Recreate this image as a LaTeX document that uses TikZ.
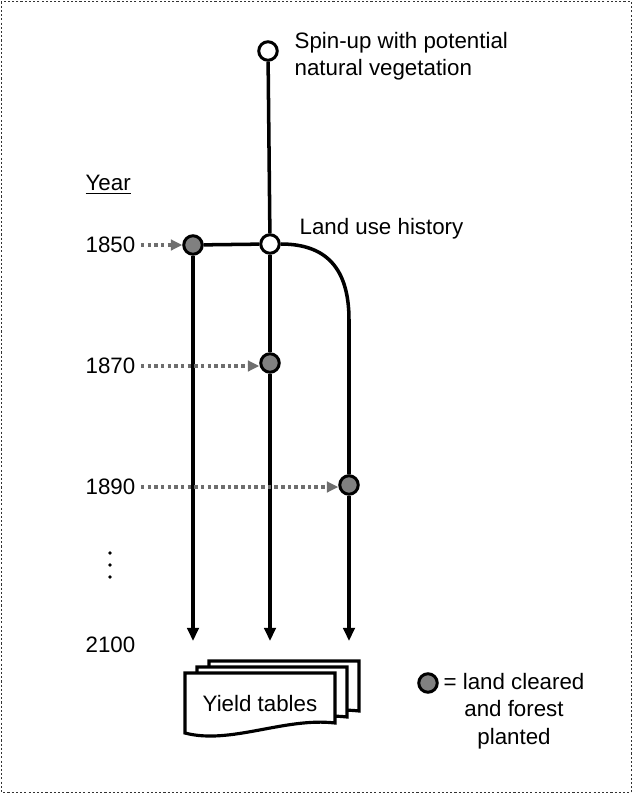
\documentclass[tikz,border=0pt]{standalone}
\usepackage{fontspec}
\setmainfont{Liberation Sans}
\usetikzlibrary{arrows.meta}
\definecolor{grisplein}{HTML}{808080}
\definecolor{grisfleche}{HTML}{6E6E6E}
\tikzset{
  texte/.style={font=\fontsize{12.7}{15.5}\selectfont,inner sep=3pt},
  ouvert/.style={circle,draw=black,fill=white,line width=1.7pt,minimum size=0.37cm,inner sep=0pt},
  plein/.style={ouvert,fill=grisplein},
  ligne/.style={line width=2pt},
  fleche/.style={ligne,-{Triangle[width=6.5pt,length=7.5pt]}},
  pointille/.style={grisfleche,line width=2pt,dash pattern=on 2pt off 1.8pt,
    -{Triangle[width=6pt,length=6.5pt]}},
  feuille/.pic={\draw[line width=1.8pt,fill=white] (0,0) -- (150,0) -- (150,50)
    .. controls (100,44) and (45,72) .. (0,60) -- cycle;}
}
\begin{document}
\begin{tikzpicture}[x=0.02cm,y=-0.02cm]
\useasboundingbox (0,0) rectangle (633,794);
%cadre
\draw[black!80,line width=0.8pt,dash pattern=on 1.2pt off 1.2pt] (1.5,1.5) rectangle (631.5,792.5);
%cercles
\node[ouvert] (spin) at (268,51) {};
\node[ouvert] (hist) at (270,244) {};
\node[plein] (c1850) at (193,245) {};
\node[plein] (c1870) at (270,363) {};
\node[plein] (c1890) at (349,485) {};
\coordinate (coude) at (349,320);
\coordinate (fin1) at (193,641);
\coordinate (fin2) at (270,641);
\coordinate (fin3) at (349,641);
%lignes
\draw[ligne] (spin) -- (hist);
\draw[ligne] (c1850) -- (hist);
\draw[ligne] (hist.east) .. controls (326,244) and (349,268) .. (coude) -- (c1890);
\draw[ligne] (hist) -- (c1870);
\draw[fleche] (c1850) -- (fin1);
\draw[fleche] (c1870) -- (fin2);
\draw[fleche] (c1890) -- (fin3);
%textes
\node[texte,anchor=west,align=left] (spintxt) at (289,56) {Spin-up with potential\\natural vegetation};
\node[texte,anchor=west] (histtxt) at (294,229) {Land use history};
%annees
\node[texte,anchor=west] (annee) at (80,185) {\underline{Year}};
\node[texte,anchor=west] (a1850) at (80,245) {1850};
\node[texte,anchor=west] (a1870) at (80,366) {1870};
\node[texte,anchor=west] (a1890) at (80,487) {1890};
\node[texte,anchor=west] (a2100) at (80,645) {2100};
\foreach \y in {553,565,577} \fill (110,\y) circle (1.8);
\draw[pointille] (a1850.east) -- (c1850.west);
\draw[pointille] (a1870.east) -- (a1870.east -| c1870.west);
\draw[pointille] (a1890.east) -- (a1890.east -| c1890.west);
%tables
\pic at (209,661) {feuille};
\pic at (197,667) {feuille};
\pic at (185,673) {feuille};
\node[texte] (tables) at (260,704) {Yield tables};
%legende
\node[plein] (leg) at (428,683) {};
\node[texte,align=center] (legtxt) at (514,711) {= land cleared\\and forest\\planted};
\end{tikzpicture}
\end{document}
